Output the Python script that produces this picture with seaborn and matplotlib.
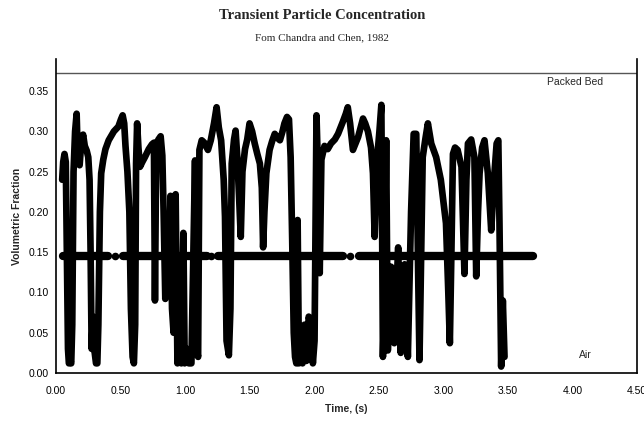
import matplotlib
matplotlib.use("Agg")
import matplotlib.pyplot as plt
import pandas as pd
import seaborn as sns

# Measured particle volume fraction vs. time
time_s = [
    0.050, 0.058, 0.068, 0.078, 0.088, 0.095, 0.102, 0.112, 0.120, 0.128,
    0.138, 0.150, 0.162, 0.172, 0.185, 0.195, 0.212, 0.225, 0.240, 0.252,
    0.262, 0.270, 0.278, 0.288, 0.298, 0.312, 0.322, 0.330, 0.342, 0.352,
    0.368, 0.385, 0.410, 0.450, 0.485, 0.505, 0.518, 0.530, 0.540, 0.555,
    0.570, 0.582, 0.595, 0.605, 0.615, 0.622, 0.630, 0.640, 0.652, 0.670,
    0.690, 0.720, 0.745, 0.760, 0.768, 0.778, 0.795, 0.812, 0.825, 0.835,
    0.848, 0.862, 0.878, 0.888, 0.900, 0.912, 0.928, 0.942, 0.958, 0.972,
    0.988, 0.998, 1.015, 1.030, 1.050, 1.065, 1.078, 1.090, 1.102, 1.112,
    1.130, 1.150, 1.178, 1.200, 1.225, 1.245, 1.262, 1.280, 1.300, 1.310,
    1.322, 1.340, 1.352, 1.362, 1.380, 1.392, 1.405, 1.420, 1.432, 1.445,
    1.465, 1.482, 1.500, 1.520, 1.540, 1.560, 1.580, 1.595, 1.605, 1.615,
    1.630, 1.655, 1.675, 1.695, 1.715, 1.735, 1.755, 1.770, 1.790, 1.805,
    1.818, 1.830, 1.842, 1.852, 1.862, 1.872, 1.882, 1.898, 1.910, 1.925,
    1.940, 1.958, 1.975, 1.990, 2.003, 2.012, 2.018, 2.030, 2.043, 2.056,
    2.080, 2.105, 2.130, 2.160, 2.185, 2.205, 2.222, 2.245, 2.260, 2.278,
    2.300, 2.320, 2.340, 2.360, 2.378, 2.395, 2.416, 2.440, 2.455, 2.468,
    2.488, 2.505, 2.520, 2.532, 2.545, 2.557, 2.570, 2.595, 2.620, 2.650,
    2.670, 2.700, 2.725, 2.750, 2.770, 2.790, 2.805, 2.815, 2.828, 2.840,
    2.860, 2.880, 2.906, 2.944, 2.980, 3.020, 3.038, 3.050, 3.062, 3.074,
    3.090, 3.110, 3.140, 3.163, 3.178, 3.190, 3.215, 3.240, 3.254, 3.268,
    3.280, 3.300, 3.318, 3.344, 3.370, 3.395, 3.412, 3.425, 3.434, 3.447,
    3.460, 3.473,
]
vol_frac = [
    0.240, 0.262, 0.272, 0.262, 0.120, 0.030, 0.012, 0.015, 0.012, 0.060,
    0.250, 0.300, 0.322, 0.262, 0.258, 0.280, 0.296, 0.282, 0.276, 0.268,
    0.240, 0.150, 0.030, 0.070, 0.030, 0.012, 0.012, 0.060, 0.200, 0.248,
    0.265, 0.278, 0.289, 0.300, 0.306, 0.315, 0.320, 0.310, 0.282, 0.250,
    0.200, 0.080, 0.020, 0.012, 0.060, 0.260, 0.310, 0.280, 0.256, 0.262,
    0.268, 0.278, 0.284, 0.286, 0.090, 0.284, 0.290, 0.294, 0.270, 0.200,
    0.092, 0.160, 0.100, 0.220, 0.080, 0.050, 0.222, 0.012, 0.050, 0.012,
    0.174, 0.012, 0.030, 0.012, 0.012, 0.150, 0.264, 0.030, 0.020, 0.277,
    0.289, 0.286, 0.277, 0.289, 0.310, 0.330, 0.305, 0.289, 0.240, 0.194,
    0.040, 0.022, 0.080, 0.260, 0.290, 0.301, 0.268, 0.215, 0.169, 0.250,
    0.278, 0.290, 0.310, 0.300, 0.285, 0.272, 0.260, 0.230, 0.156, 0.200,
    0.248, 0.277, 0.288, 0.297, 0.292, 0.289, 0.300, 0.310, 0.318, 0.315,
    0.268, 0.165, 0.050, 0.020, 0.012, 0.190, 0.012, 0.050, 0.012, 0.060,
    0.015, 0.070, 0.060, 0.012, 0.040, 0.200, 0.320, 0.250, 0.124, 0.265,
    0.282, 0.278, 0.285, 0.290, 0.297, 0.305, 0.312, 0.322, 0.330, 0.310,
    0.277, 0.285, 0.293, 0.305, 0.316, 0.310, 0.300, 0.280, 0.248, 0.169,
    0.268, 0.300, 0.333, 0.020, 0.103, 0.289, 0.028, 0.132, 0.037, 0.156,
    0.025, 0.135, 0.020, 0.200, 0.297, 0.297, 0.120, 0.016, 0.150, 0.268,
    0.290, 0.310, 0.285, 0.268, 0.240, 0.186, 0.100, 0.037, 0.150, 0.272,
    0.280, 0.277, 0.256, 0.123, 0.240, 0.285, 0.290, 0.268, 0.120, 0.200,
    0.248, 0.280, 0.289, 0.248, 0.177, 0.248, 0.285, 0.289, 0.186, 0.008,
    0.090, 0.020,
]

# Time-averaged fraction, drawn as a heavy broken band
mean_level = 0.145
mean_seg_start = [0.06, 0.52, 1.255, 2.35]
mean_seg_end = [0.405, 1.17, 2.22, 3.69]
mean_dots = [0.458, 1.205, 2.275]

# Reference level of a packed bed
packed_bed_level = 0.373

x_ticks = [0.0, 0.5, 1.0, 1.5, 2.0, 2.5, 3.0, 3.5, 4.0, 4.5]
y_ticks = [0.00, 0.05, 0.10, 0.15, 0.20, 0.25, 0.30, 0.35]

sns.set_theme(style="white")
plt.rcParams["font.family"] = ["Liberation Sans", "DejaVu Sans"]

fig = plt.figure(figsize=(6.44, 4.21), dpi=100)
ax = fig.add_axes([0.0865, 0.114, 0.903, 0.746])

signal = pd.DataFrame({"t": time_s, "v": vol_frac})
band = pd.DataFrame({
    "t": [t for pair in zip(mean_seg_start, mean_seg_end) for t in pair],
    "v": [mean_level] * (2 * len(mean_seg_start)),
    "seg": [i for i in range(len(mean_seg_start)) for _ in range(2)],
})
dots = pd.DataFrame({"t": mean_dots, "v": [mean_level] * len(mean_dots)})

sns.lineplot(data=band, x="t", y="v", units="seg", estimator=None,
             color="black", linewidth=6.0, solid_capstyle="round", ax=ax,
             legend=False)
sns.scatterplot(data=dots, x="t", y="v", color="black", s=30,
                edgecolor="black", linewidth=0, ax=ax, legend=False)
sns.lineplot(data=signal, x="t", y="v", sort=False, estimator=None,
             color="black", linewidth=4.8, solid_joinstyle="round",
             solid_capstyle="round", ax=ax, legend=False)

ax.axhline(packed_bed_level, color="#555555", linewidth=1.0)

ax.set_xlim(0, 4.5)
ax.set_ylim(0, 0.39)
ax.set_xticks(x_ticks)
ax.set_yticks(y_ticks)
ax.set_xticklabels([f"{v:.2f}" for v in x_ticks])
ax.set_yticklabels([f"{v:.2f}" for v in y_ticks])
ax.tick_params(axis="both", length=0, labelsize=7.5, colors="black")
ax.tick_params(axis="x", pad=9)
ax.tick_params(axis="y", pad=5)

for side in ("left", "bottom", "right"):
    ax.spines[side].set_visible(True)
    ax.spines[side].set_color("black")
    ax.spines[side].set_linewidth(1.2)
ax.spines["top"].set_visible(False)

ax.set_xlabel("Time, (s)", fontsize=7.5, fontweight="bold", labelpad=6)
ax.set_ylabel("Volumetric Fraction", fontsize=7.5, fontweight="bold",
              labelpad=5)

ax.text(3.80, 0.367, "Packed Bed", fontsize=7.5, va="top", ha="left")
ax.text(4.05, 0.022, "Air", fontsize=7.5, va="center", ha="left")

fig.text(0.5, 0.962, "Transient Particle Concentration",
         family="Liberation Serif", fontweight="bold", fontsize=10.5,
         ha="center", va="center")
fig.text(0.5, 0.91, "Fom Chandra and Chen, 1982",
         family="Liberation Serif", fontsize=8, ha="center", va="center")

fig.savefig("out.png", dpi=100)
